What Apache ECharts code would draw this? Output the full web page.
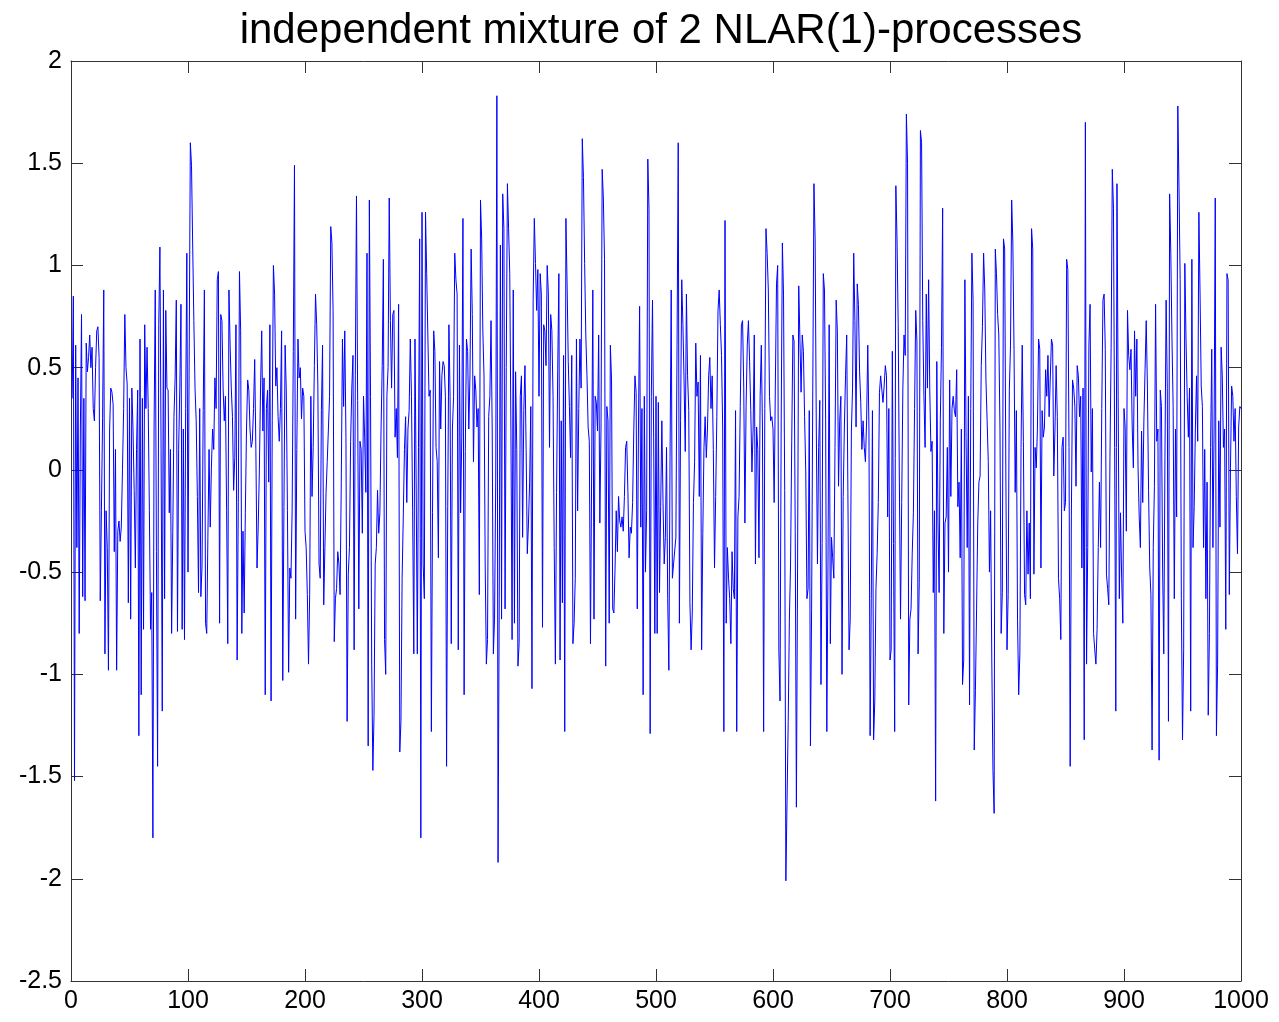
<!DOCTYPE html>
<html>
<head>
<meta charset="utf-8">
<title>independent mixture of 2 NLAR(1)-processes</title>
<script src="https://cdn.jsdelivr.net/npm/echarts@6/dist/echarts.min.js"></script>
<style>
  html, body { margin: 0; padding: 0; background: #ffffff; }
  #chart { width: 1279px; height: 1022px; }
</style>
</head>
<body>
<div id="chart"></div>
<script>
// Simulated series, t = 1..1000, stored in blocks of 100 observations.
const values0001to0100 = [
  0.35, 0.85, -1.52, 0.61, -0.38, 0.45, -0.80, 0.20, 0.76, -0.62,
  0.35, -0.64, 0.62, 0.48, 0.55, 0.66, 0.50, 0.60, 0.30, 0.24,
  0.50, 0.68, 0.70, 0.55, -0.64, -0.20, 0.25, 0.88, -0.90, -0.20,
  -0.38, -0.98, 0.20, 0.40, 0.38, 0.32, -0.40, 0.10, -0.98, -0.30,
  -0.25, -0.35, -0.28, 0.00, 0.30, 0.76, 0.50, 0.42, -0.65, 0.35,
  -0.73, 0.40, 0.20, -0.10, -0.48, 0.10, 0.39, -1.30, 0.64, -1.10,
  0.35, -0.78, 0.71, 0.30, 0.60, 0.30, -0.20, -0.78, -0.60, -1.80,
  0.20, 0.88, -0.40, -1.45, 0.71, 1.09, 0.10, -1.18, 0.88, -0.63,
  0.78, 0.40, 0.39, -0.21, 0.10, -0.80, -0.30, 0.26, 0.45, 0.83,
  -0.79, 0.10, 0.40, 0.81, -0.78, 0.20, -0.83, 0.30, 1.06, -0.50
];
const values0101to0200 = [
  -0.50, 1.60, 1.49, 1.10, 0.73, 0.40, 0.24, -0.13, -0.60, 0.30,
  -0.62, -0.47, 0.29, 0.88, -0.75, -0.80, -0.33, 0.10, -0.28, 0.01,
  0.20, 0.10, 0.45, 0.30, 0.93, 0.97, -0.75, 0.76, 0.73, 0.40,
  0.24, 0.36, -0.20, -0.85, 0.88, 0.61, 0.40, 0.26, -0.10, 0.06,
  0.71, -0.93, -0.16, 0.97, 0.68, -0.80, -0.30, -0.70, -0.21, 0.20,
  0.44, 0.39, 0.20, 0.11, 0.14, 0.30, 0.54, 0.10, -0.48, -0.28,
  0.00, 0.40, 0.68, 0.19, 0.45, -1.10, 0.30, 0.39, -0.06, 0.71,
  -1.13, 0.24, 1.00, 0.86, 0.41, 0.50, 0.26, 0.14, 0.30, 0.68,
  -1.03, -0.18, 0.61, 0.39, -0.20, -0.99, -0.48, -0.53, -0.20, 0.58,
  1.49, -0.73, 0.10, 0.64, 0.45, 0.50, 0.25, 0.40, 0.36, -0.30
];
const values0201to0300 = [
  -0.38, -0.61, -0.95, -0.61, 0.36, -0.13, 0.11, 0.51, 0.86, 0.71,
  0.41, -0.46, -0.53, 0.29, 0.61, -0.66, -0.38, -0.11, 0.04, 0.20,
  0.36, 1.19, 1.11, 0.78, -0.84, -0.63, -0.58, -0.40, -0.46, -0.61,
  -0.06, 0.64, 0.31, 0.68, 0.16, -1.23, -0.51, -0.38, 0.14, 0.40,
  0.56, -0.88, 0.46, 1.34, 0.34, -0.68, 0.14, 0.10, -0.31, 0.36,
  0.16, -0.11, 1.06, -1.35, 1.32, 0.36, -0.95, -1.47, -1.20, -0.46,
  -0.38, -0.10, -0.31, -0.21, 0.20, 0.51, 1.03, -0.83, -1.00, 0.36,
  0.50, 1.33, 0.73, 0.40, 0.76, 0.78, 0.16, 0.30, 0.06, 0.81,
  -1.38, -1.23, -0.53, -0.23, 0.10, 0.26, -0.16, 0.20, 0.29, 0.64,
  0.36, -0.20, -0.90, 0.64, -0.06, -0.90, 0.11, 1.13, -1.80, 1.26
];
const values0301to0400 = [
  -0.46, -0.63, 1.26, 0.96, 0.66, 0.36, 0.39, -1.28, -0.21, 0.68,
  0.58, 0.11, 0.04, -0.43, 0.53, 0.20, 0.46, 0.53, 0.51, 0.36,
  -1.45, -0.18, 0.71, 0.36, -0.85, 0.20, 0.36, 1.06, 0.93, 0.86,
  -0.88, 0.61, -0.21, 0.16, 1.23, -1.10, 0.09, 0.64, 0.58, 0.20,
  0.46, 1.08, 0.76, 0.04, 0.46, 0.39, 0.21, 0.30, -0.61, 1.32,
  1.13, 0.68, 0.46, -0.46, -0.95, -0.83, 0.26, 0.36, 0.73, 0.20,
  -0.90, -0.73, -0.06, 1.83, -1.92, -0.63, 1.10, -0.73, 1.35, 1.18,
  -0.68, 0.50, 1.40, 1.18, 0.96, 0.20, -0.83, 0.88, -0.75, 0.48,
  0.10, -0.96, -0.85, 0.36, 0.46, -0.33, 0.29, 0.51, 0.10, -0.41,
  -0.26, -0.06, 0.31, -1.07, 0.83, 1.23, 1.01, 0.78, 0.98, 0.36
];
const values0401to0500 = [
  0.96, 0.86, -0.77, 0.71, 0.68, 0.51, 1.00, 0.86, 0.11, 0.76,
  0.68, 0.36, -0.38, -0.95, -0.11, 0.49, 0.96, -0.93, 0.24, -0.65,
  0.56, -1.28, 1.23, 0.91, 0.53, 0.31, 0.06, 0.56, -0.85, -0.75,
  -0.53, 0.64, -0.20, 0.30, 0.64, 0.40, 1.62, 1.43, 1.01, 0.66,
  0.46, 0.21, 0.14, -0.85, -0.01, 0.88, -0.73, 0.36, 0.33, 0.19,
  0.66, -0.26, 0.20, 1.47, 1.33, 1.03, -0.96, 0.31, 0.24, -0.75,
  0.61, 0.44, -0.68, -0.70, -0.48, -0.20, -0.40, -0.13, -0.25, -0.28,
  -0.23, -0.30, -0.13, 0.11, 0.14, -0.11, -0.43, -0.28, -0.31, -0.16,
  0.19, 0.46, 0.38, -0.68, 0.20, 0.80, -0.28, 0.30, -1.10, 0.36,
  -0.50, -0.20, 1.52, 1.28, -1.29, 0.36, 0.83, 0.16, -0.80, 0.36
];
const values0501to0600 = [
  -0.80, 0.33, -0.60, -0.18, 0.24, -0.16, -0.46, -0.33, 0.11, -0.63,
  -0.98, 0.06, 0.88, -0.53, -0.46, -0.46, -0.33, 0.61, 1.60, -0.75,
  0.24, 0.93, 0.71, 0.43, 0.09, 0.86, 0.46, 0.29, -0.65, -0.88,
  -0.70, -0.16, 0.04, 0.62, 0.36, 0.43, -0.13, 0.56, -0.88, -0.31,
  0.11, 0.26, 0.06, 0.20, 0.46, 0.55, 0.30, 0.46, 0.10, -0.48,
  -0.13, 0.26, 0.78, 0.88, 0.71, 0.56, 0.20, -1.28, 1.22, -0.75,
  -0.38, -0.53, -0.63, -0.85, -0.40, -0.58, -0.63, 0.29, -1.28, -0.23,
  -0.13, 0.31, 0.71, 0.73, 0.40, -0.26, 0.31, 0.61, 0.73, 0.53,
  0.29, -0.01, 0.20, 0.66, -0.46, 0.21, 0.10, -0.43, 0.36, 0.61,
  0.20, -1.28, 0.30, 1.18, 1.06, 0.88, 0.36, 0.24, 0.26, 0.20
];
const values0601to0700 = [
  -0.16, 0.41, 0.91, 1.00, -0.88, -1.13, 0.24, 1.11, 0.86, -0.10,
  -2.01, -1.62, -1.23, -0.73, -0.46, 0.14, 0.66, 0.63, -0.30, -1.65,
  -0.48, 0.90, 0.64, 0.38, 0.66, 0.58, 0.26, -0.01, -0.63, -0.58,
  0.29, -1.35, -0.68, 0.39, 1.40, 1.13, 0.21, -0.46, 0.11, 0.34,
  -1.05, -0.36, 0.96, 0.88, 0.24, -1.28, -0.46, 0.71, -0.85, -0.33,
  -0.43, -0.53, 0.11, 0.83, 0.68, -0.08, 0.24, 0.36, -1.00, -0.13,
  0.21, 0.46, 0.66, -0.11, -0.88, -0.73, 0.19, 0.40, 1.06, 0.73,
  0.21, 0.91, 0.81, 0.48, 0.33, 0.10, 0.24, 0.11, 0.04, 0.24,
  0.61, 0.20, -1.30, -0.63, 0.29, -1.32, -1.13, -0.58, -0.41, -0.16,
  0.38, 0.46, 0.46, 0.33, 0.41, 0.51, 0.46, -0.23, 0.30, -0.93
];
const values0701to0800 = [
  -0.88, 0.58, -0.36, -1.28, 1.39, 1.13, 0.71, -0.06, -0.73, -0.16,
  0.40, 0.66, 0.56, 1.74, 1.50, -1.15, -0.73, -0.68, -0.41, -0.21,
  0.30, 0.78, 0.63, -0.90, -0.55, 1.66, 1.60, 0.73, 0.36, 0.11,
  0.86, 0.40, 0.93, 0.39, 0.09, 0.14, -0.60, -0.20, -1.62, 0.53,
  -0.26, -0.60, 0.24, 0.60, 1.28, -0.80, -0.26, -0.23, 0.11, -0.50,
  0.44, -0.13, 0.30, 0.36, 0.29, 0.26, 0.49, -0.18, -0.06, -0.43,
  0.20, -1.05, -0.93, 0.93, 0.16, -0.38, 0.36, -1.15, 0.30, 1.06,
  0.83, -1.37, -1.08, -0.68, -0.26, -0.06, -0.03, 0.51, 0.70, 1.06,
  0.88, 0.44, 0.24, 0.04, -0.50, -0.20, -0.93, -1.47, -1.68, 1.08,
  0.96, 0.76, 0.66, 0.20, -0.80, -0.60, 1.13, 1.08, -0.01, -0.88
];
const values0801to0900 = [
  -0.61, 0.39, 0.61, 1.32, 1.11, 0.59, -0.11, 0.29, -0.73, -1.10,
  -0.90, 0.11, 0.61, 0.14, -0.61, -0.66, -0.20, -0.51, -0.26, -0.63,
  1.18, 1.08, -0.51, 0.11, 0.01, 0.20, 0.64, 0.59, -0.48, 0.29,
  0.16, 0.21, 0.49, 0.36, 0.56, 0.26, 0.26, 0.64, 0.61, -0.03,
  0.20, 0.51, 0.26, -0.53, -0.63, -0.83, 0.11, 0.16, -0.20, -0.16,
  1.03, 0.98, 0.11, -1.45, -0.23, 0.44, 0.40, 0.31, -0.08, 0.51,
  0.46, 0.26, 0.36, -0.48, 0.40, -1.32, 1.70, -0.95, -0.38, 0.61,
  0.81, -0.01, 0.30, -0.80, -0.88, -0.95, -0.78, -0.38, -0.06, -0.38,
  0.30, 0.83, 0.86, 0.59, -0.51, -0.58, -0.66, 0.06, 0.60, 1.47,
  1.28, 0.11, -1.18, 1.40, 0.36, -0.63, -0.21, -0.53, -0.75, 0.30
];
const values0901to1000 = [
  0.21, -0.30, 0.78, 0.56, 0.49, 0.59, 0.21, 0.01, 0.68, 0.36,
  0.64, 0.01, -0.23, -0.38, 0.19, -0.16, 0.24, 0.49, 0.73, 0.41,
  -0.10, -0.48, -0.61, -1.37, -0.38, -0.08, 0.81, 0.14, 0.20, -1.42,
  0.39, 0.31, -0.48, -0.90, 0.06, 0.83, 0.40, -1.23, 1.35, 1.06,
  0.64, 0.31, -0.63, 0.20, -0.23, 1.78, 1.38, 0.93, -0.63, -1.32,
  -0.88, 1.01, 0.64, 0.36, 0.16, 0.40, -1.18, 1.03, -0.38, -0.18,
  0.20, 0.46, 0.14, 1.26, 0.86, 0.41, 0.31, -0.38, 0.10, -0.63,
  -0.06, -1.20, -0.80, 0.11, 0.59, -0.38, 0.20, 1.33, -1.30, -0.95,
  0.24, -0.28, 0.60, 0.46, 0.11, 0.20, -0.78, 0.96, 0.93, -0.61,
  0.01, 0.41, 0.36, 0.14, 0.30, -0.13, -0.41, 0.21, 0.31, 0.30
];

const chartTitle = 'independent mixture of 2 NLAR(1)-processes';

const series = [].concat(
  values0001to0100, values0101to0200, values0201to0300, values0301to0400,
  values0401to0500, values0501to0600, values0601to0700, values0701to0800,
  values0801to0900, values0901to1000
);
const points = series.map((v, i) => [i + 1, v]);

const FONT = "'Liberation Sans', Arial, Helvetica, sans-serif";
const FRAME = '#333333';

function boxAxis(extra) {
  return Object.assign({
    type: 'value',
    axisLine: { show: true, onZero: false, lineStyle: { color: FRAME, width: 1 } },
    axisTick: { show: true, inside: true, length: 12, lineStyle: { color: FRAME, width: 1 } },
    splitLine: { show: false },
    axisLabel: { show: false }
  }, extra);
}

const labelStyle = { color: '#000000', fontFamily: FONT, fontSize: 25 };

const chart = echarts.init(document.getElementById('chart'), null, { renderer: 'canvas' });
chart.setOption({
  animation: false,
  backgroundColor: '#ffffff',
  title: {
    text: chartTitle,
    left: 656,
    textAlign: 'center',
    top: 5,
    textStyle: { color: '#000000', fontFamily: FONT, fontSize: 42, fontWeight: 'normal' }
  },
  grid: { left: 71, right: 38, top: 61, bottom: 41, containLabel: false },
  xAxis: [
    boxAxis({
      position: 'bottom', min: 0, max: 1000, interval: 100,
      axisLabel: Object.assign({ show: true, margin: 8, formatter: v => String(v) }, labelStyle)
    }),
    boxAxis({ position: 'top', min: 0, max: 1000, interval: 100 })
  ],
  yAxis: [
    boxAxis({
      position: 'left', min: -2.5, max: 2, interval: 0.5,
      axisLabel: Object.assign({ show: true, margin: 9, formatter: v => String(v) }, labelStyle)
    }),
    boxAxis({ position: 'right', min: -2.5, max: 2, interval: 0.5 })
  ],
  series: [{
    type: 'line',
    xAxisIndex: 0,
    yAxisIndex: 0,
    data: points,
    showSymbol: false,
    symbol: 'none',
    sampling: null,
    lineStyle: { color: '#0000ff', width: 1 },
    itemStyle: { color: '#0000ff' },
    silent: true
  }]
});
</script>
</body>
</html>
